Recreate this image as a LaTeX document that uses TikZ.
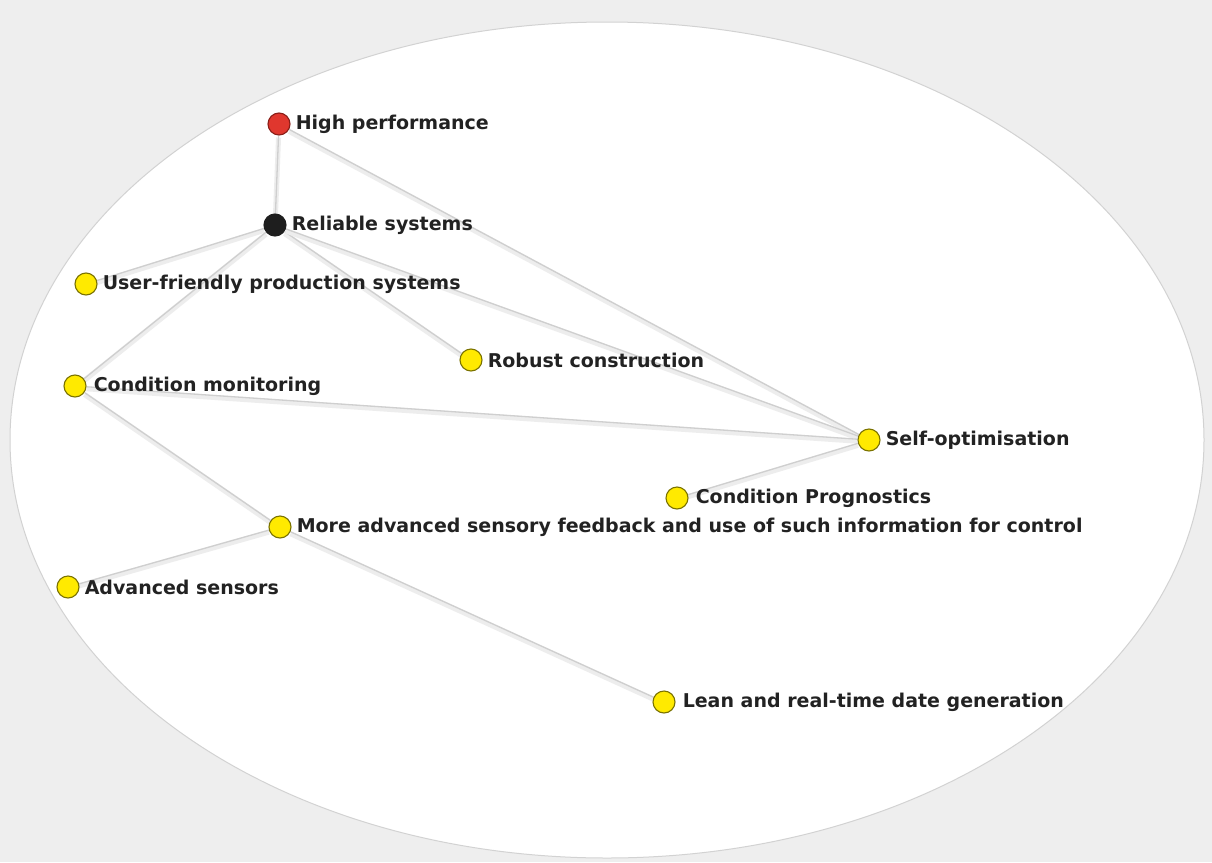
\documentclass[tikz,border=0pt]{standalone}
\usepackage{fontspec}
\setmainfont{DejaVu Sans}
\usetikzlibrary{positioning}
\pgfdeclarelayer{bg}
\pgfdeclarelayer{edges}
\pgfsetlayers{bg,edges,main}

\definecolor{dotyellow}{HTML}{FFEA00}
\definecolor{dotyellowrim}{HTML}{7A7200}
\definecolor{dotred}{HTML}{E0372E}
\definecolor{dotredrim}{HTML}{8A1E18}
\definecolor{dotblack}{HTML}{1E1E1E}
\definecolor{labeltext}{HTML}{222222}
\definecolor{linkgray}{HTML}{CFCFCF}
\definecolor{linkshadow}{HTML}{EDEDED}

\tikzset{
  dot/.style={circle, draw=dotyellowrim, fill=dotyellow, line width=1.1pt,
    minimum size=22pt, inner sep=0pt},
  dotred/.style={dot, draw=dotredrim, fill=dotred},
  dotblack/.style={dot, draw=dotblack, fill=dotblack},
  caption/.style={anchor=west, inner sep=0pt, text=labeltext,
    font=\fontsize{19}{22}\selectfont\bfseries},
  link/.style={draw=linkgray, line width=1.3pt,
    preaction={draw=linkshadow, line width=5pt, transform canvas={yshift=-2pt}}},
}

\begin{document}
\begin{tikzpicture}[x=1pt,y=-1pt]

  % Frame and background
  \useasboundingbox (0,0) rectangle (1212,862);
  \begin{pgfonlayer}{bg}
    \fill[gray!13] (0,0) rectangle (1212,862);
    \fill[white, draw=gray!35, line width=1pt] (607,440) ellipse (597 and 418);
  \end{pgfonlayer}

  % Dots
  \node[dotred]   (hp)  at (279,124) {};
  \node[dotblack] (rs)  at (275,225) {};
  \node[dot]      (ufp) at (86,284)  {};
  \node[dot]      (rc)  at (471,360) {};
  \node[dot]      (cm)  at (75,386)  {};
  \node[dot]      (so)  at (869,440) {};
  \node[dot]      (cp)  at (677,498) {};
  \node[dot]      (ms)  at (280,527) {};
  \node[dot]      (as)  at (68,587)  {};
  \node[dot]      (lr)  at (664,702) {};

  % Labels
  \node[caption, right=5pt of hp]  (hpt)  {High performance};
  \node[caption, right=5pt of rs]  (rst)  {Reliable systems};
  \node[caption, right=5pt of ufp] (ufpt) {User-friendly production systems};
  \node[caption, right=5pt of rc]  (rct)  {Robust construction};
  \node[caption, right=7pt of cm]  (cmt)  {Condition monitoring};
  \node[caption, right=5pt of so]  (sot)  {Self-optimisation};
  \node[caption, right=7pt of cp]  (cpt)  {Condition Prognostics};
  \node[caption, right=5pt of ms]  (mst)  {More advanced sensory feedback and use of such information for control};
  \node[caption, right=5pt of as]  (ast)  {Advanced sensors};
  \node[caption, right=7pt of lr]  (lrt)  {Lean and real-time date generation};

  % Links
  \begin{pgfonlayer}{edges}
    \draw[link] (hp) -- (rs);
    \draw[link] (hp) -- (so);
    \draw[link] (rs) -- (ufp);
    \draw[link] (rs) -- (cm);
    \draw[link] (rs) -- (rc);
    \draw[link] (rs) -- (so);
    \draw[link] (cm) -- (so);
    \draw[link] (cm) -- (ms);
    \draw[link] (so) -- (cp);
    \draw[link] (ms) -- (as);
    \draw[link] (ms) -- (lr);
  \end{pgfonlayer}

\end{tikzpicture}
\end{document}
